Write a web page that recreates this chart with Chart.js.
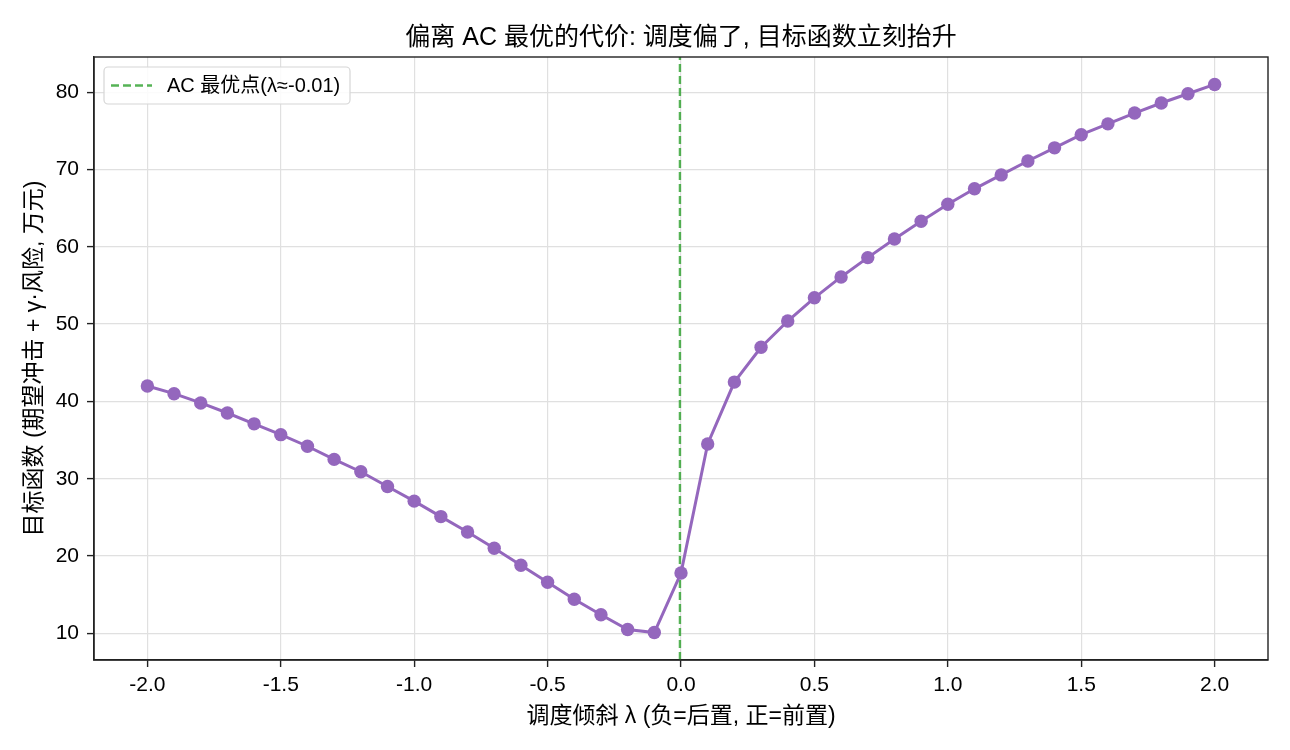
<!DOCTYPE html>
<html>
<head>
<meta charset="utf-8">
<script src="https://cdn.jsdelivr.net/npm/chart.js@4.4.1/dist/chart.umd.min.js"></script>
<style>
  html, body { margin: 0; padding: 0; background: #fff; }
  #wrap { width: 1290px; height: 750px; }
</style>
</head>
<body>
<div id="wrap"><canvas id="costChart" width="1290" height="750"></canvas></div>
<script>
// data
const lambdas = [-2.0, -1.9, -1.8, -1.7, -1.6, -1.5, -1.4, -1.3, -1.2, -1.1, -1.0,
                 -0.9, -0.8, -0.7, -0.6, -0.5, -0.4, -0.3, -0.2, -0.1, 0.0,
                 0.1, 0.2, 0.3, 0.4, 0.5, 0.6, 0.7, 0.8, 0.9, 1.0,
                 1.1, 1.2, 1.3, 1.4, 1.5, 1.6, 1.7, 1.8, 1.9, 2.0];
const objective = [42.0, 41.0, 39.8, 38.5, 37.1, 35.7, 34.2, 32.5, 30.9, 29.0, 27.1,
                   25.1, 23.1, 21.0, 18.8, 16.6, 14.4, 12.4, 10.5, 10.1, 17.8,
                   34.5, 42.5, 47.0, 50.4, 53.4, 56.1, 58.6, 61.0, 63.3, 65.5,
                   67.5, 69.3, 71.1, 72.8, 74.5, 75.9, 77.3, 78.6, 79.8, 81.0];
const acOptimum = -0.004;
const acLabel = 'AC 最优点(λ≈-0.01)';
const xTicks = [-2.0, -1.5, -1.0, -0.5, 0.0, 0.5, 1.0, 1.5, 2.0];
const yTicks = [10, 20, 30, 40, 50, 60, 70, 80];

const FONT = "'Liberation Sans', Arial, 'Noto Sans CJK SC', sans-serif";
const yMin = 6.55, yMax = 84.55;

// frame + title + legend box, matplotlib style
const framePlugin = {
    id: 'framePlugin',
    afterDraw(chart) {
        const ctx = chart.ctx;
        const a = chart.chartArea;
        ctx.save();
        ctx.strokeStyle = '#222';
        ctx.lineWidth = 1.4;
        ctx.strokeRect(a.left, a.top, a.right - a.left, a.bottom - a.top);

        ctx.fillStyle = '#000';
        ctx.font = '25px ' + FONT;
        ctx.textAlign = 'center';
        ctx.textBaseline = 'middle';
        ctx.fillText('偏离 AC 最优的代价: 调度偏了, 目标函数立刻抬升', (a.left + a.right) / 2, 38);

        // legend
        const bx = a.left + 10, by = a.top + 10, bw = 246, bh = 37;
        ctx.fillStyle = 'rgba(255,255,255,0.85)';
        ctx.strokeStyle = '#d6d6d6';
        ctx.lineWidth = 1.2;
        ctx.beginPath();
        ctx.roundRect(bx, by, bw, bh, 4);
        ctx.fill();
        ctx.stroke();
        ctx.strokeStyle = 'rgba(44,160,44,0.8)';
        ctx.lineWidth = 2.4;
        ctx.setLineDash([8, 4]);
        ctx.beginPath();
        ctx.moveTo(bx + 7, by + bh / 2);
        ctx.lineTo(bx + 48, by + bh / 2);
        ctx.stroke();
        ctx.setLineDash([]);
        ctx.fillStyle = '#000';
        ctx.font = '20px ' + FONT;
        ctx.textAlign = 'left';
        ctx.fillText(acLabel, bx + 63, by + bh / 2 + 1);
        ctx.restore();
    }
};

const ctx = document.getElementById('costChart').getContext('2d');
const costChart = new Chart(ctx, {
    type: 'line',
    data: {
        datasets: [
            {
                label: '目标函数',
                data: lambdas.map((l, i) => ({ x: l, y: objective[i] })),
                borderColor: '#9467bd',
                backgroundColor: '#9467bd',
                borderWidth: 3,
                pointRadius: 6.7,
                pointHoverRadius: 6.7,
                pointBorderWidth: 0,
                tension: 0
            },
            {
                label: acLabel,
                data: [{ x: acOptimum, y: yMin }, { x: acOptimum, y: yMax }],
                borderColor: 'rgba(44,160,44,0.8)',
                borderWidth: 2.4,
                borderDash: [8, 4],
                pointRadius: 0
            }
        ]
    },
    options: {
        responsive: false,
        animation: false,
        layout: { padding: { top: 57, right: 22, left: 0, bottom: 0 } },
        plugins: {
            legend: { display: false },
            title: { display: false },
            tooltip: { enabled: false }
        },
        scales: {
            x: {
                type: 'linear',
                min: -2.2,
                max: 2.2,
                afterBuildTicks: scale => { scale.ticks = xTicks.map(v => ({ value: v })); },
                afterFit: scale => { scale.height = 90; },
                ticks: {
                    color: '#000',
                    font: { family: FONT, size: 21 },
                    padding: 6,
                    maxRotation: 0,
                    callback: v => v.toFixed(1)
                },
                grid: { color: '#e0e0e0', lineWidth: 1.2, tickColor: '#222', tickLength: 7, tickWidth: 1.4 },
                border: { color: '#222', width: 1.4 },
                title: {
                    display: true,
                    text: '调度倾斜 λ (负=后置, 正=前置)',
                    color: '#000',
                    font: { family: FONT, size: 23 },
                    padding: { top: 4, bottom: 20 }
                }
            },
            y: {
                type: 'linear',
                min: yMin,
                max: yMax,
                afterBuildTicks: scale => { scale.ticks = yTicks.map(v => ({ value: v })); },
                afterFit: scale => { scale.width = 94; },
                ticks: {
                    color: '#000',
                    font: { family: FONT, size: 21 },
                    padding: 8
                },
                grid: { color: '#e0e0e0', lineWidth: 1.2, tickColor: '#222', tickLength: 7, tickWidth: 1.4 },
                border: { color: '#222', width: 1.4 },
                title: {
                    display: true,
                    text: '目标函数 (期望冲击 + γ·风险, 万元)',
                    color: '#000',
                    font: { family: FONT, size: 23 },
                    padding: { top: 21, bottom: 4 }
                }
            }
        }
    },
    plugins: [framePlugin]
});
</script>
</body>
</html>
